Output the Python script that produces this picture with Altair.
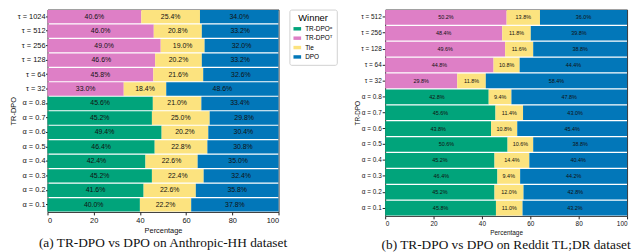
import altair as alt
import pandas as pd

winners = ["TR-DPOᵅ", "TR-DPOᵀ", "Tie", "DPO"]
colors = ["#01A47B", "#DE7FC6", "#FCE37F", "#0277B9"]

hh_rows = ["τ = 1024", "τ = 512", "τ = 256", "τ = 128", "τ = 64", "τ = 32",
           "α = 0.8", "α = 0.7", "α = 0.6", "α = 0.5", "α = 0.4", "α = 0.3", "α = 0.2", "α = 0.1"]
hh_tr = [40.6, 46.0, 49.0, 46.6, 45.8, 33.0, 45.6, 45.2, 49.4, 46.4, 42.4, 45.2, 41.6, 40.0]
hh_tie = [25.4, 20.8, 19.0, 20.2, 21.6, 18.4, 21.0, 25.0, 20.2, 22.8, 22.6, 22.4, 22.6, 22.2]
hh_dpo = [34.0, 33.2, 32.0, 33.2, 32.6, 48.6, 33.4, 29.8, 30.4, 30.8, 35.0, 32.4, 35.8, 37.8]

tldr_rows = ["τ = 512", "τ = 256", "τ = 128", "τ = 64", "τ = 32",
             "α = 0.8", "α = 0.7", "α = 0.6", "α = 0.5", "α = 0.4", "α = 0.3", "α = 0.2", "α = 0.1"]
tldr_tr = [50.2, 48.4, 49.6, 44.8, 29.8, 42.8, 45.6, 43.8, 50.6, 45.2, 46.4, 45.2, 45.8]
tldr_tie = [13.8, 11.8, 11.6, 10.8, 11.8, 9.4, 11.4, 10.8, 10.6, 14.4, 9.4, 12.0, 11.0]
tldr_dpo = [36.0, 39.8, 38.8, 44.4, 58.4, 47.8, 43.0, 45.4, 38.8, 40.4, 44.2, 42.8, 43.2]

FONT = "Liberation Sans, Arial, sans-serif"


def long_df(rows, tr, tie, dpo):
    recs = []
    for r, a, b, c in zip(rows, tr, tie, dpo):
        first = winners[1] if r.startswith("τ") else winners[0]
        recs.append({"row": r, "winner": first, "k": 0, "value": a})
        recs.append({"row": r, "winner": "Tie", "k": 1, "value": b})
        recs.append({"row": r, "winner": "DPO", "k": 2, "value": c})
    return pd.DataFrame(recs)


def panel(df, rows, w, h, fs_axis, fs_text, caption, legend, tick=3, lpad=1):
    base = alt.Chart(df).transform_stack(
        stack="value", groupby=["row"], sort=[alt.SortField("k")], as_=["x0", "x1"]
    ).transform_calculate(
        mid="(datum.x0 + datum.x1) / 2",
        lab="format(datum.value, '.1f') + '%'",
    )
    yenc = alt.Y(
        "row:N", sort=rows,
        scale=alt.Scale(paddingInner=0.08, paddingOuter=0.03),
        axis=alt.Axis(title="TR-DPO", titleFontSize=fs_axis, titleFont=FONT,
                      titleFontWeight="normal", titlePadding=0,
                      labelFontSize=fs_axis, labelFont=FONT, labelPadding=lpad,
                      tickSize=tick, tickColor="#222", domain=False, labelColor="#111",
                      titleColor="#111"),
    )
    bars = base.mark_bar().encode(
        y=yenc,
        x=alt.X("x0:Q", scale=alt.Scale(domain=[0, 100], nice=False),
                axis=alt.Axis(values=[0, 20, 40, 60, 80, 100], title="Percentage",
                              grid=False, domain=False, tickSize=3, tickColor="#222",
                              labelFontSize=fs_axis, labelFont=FONT, labelPadding=2,
                              titleFontSize=fs_axis, titleFont=FONT,
                              titleFontWeight="normal", titlePadding=2,
                              labelColor="#111", titleColor="#111")),
        x2="x1:Q",
        color=alt.Color("winner:N", scale=alt.Scale(domain=winners, range=colors),
                        legend=legend),
    )
    text = base.mark_text(fontSize=fs_text, font=FONT, color="#111").encode(
        y=alt.Y("row:N", sort=rows),
        x=alt.X("mid:Q"),
        text="lab:N",
    )
    return alt.layer(bars, text).properties(
        width=w, height=h,
        title=alt.TitleParams(caption, orient="bottom", font="Liberation Serif",
                              fontSize=13.5, fontWeight="normal", anchor="middle",
                              frame="group", offset=3, color="#111"),
    )


leg = alt.Legend(title="Winner", orient="right", offset=11, strokeColor="#d0d0d0",
                 padding=4, cornerRadius=2, titleFontSize=9.5, titleFont=FONT,
                 titleFontWeight="normal", titleAnchor="middle", titlePadding=2,
                 labelFontSize=6.5, labelFont=FONT,
                 symbolType="M-1,-0.45H1V0.45H-1Z", symbolSize=60,
                 symbolStrokeWidth=0, rowPadding=1.5)

left = panel(long_df(hh_rows, hh_tr, hh_tie, hh_dpo), hh_rows, 234, 205, 7.5, 7,
             "(a) TR-DPO vs DPO on Anthropic-HH dataset", leg, tick=2, lpad=0.5)
right = panel(long_df(tldr_rows, tldr_tr, tldr_tie, tldr_dpo), tldr_rows, 245, 209, 6.5, 5.5,
              "(b) TR-DPO vs DPO on Reddit TL;DR dataset", None)

chart = alt.hconcat(left, right, spacing=16,
                    autosize=alt.AutoSizeParams(type="none"),
                    padding={"left": 40, "top": 0, "right": 592, "bottom": 244}
                    ).resolve_scale(color="independent").configure_view(
    stroke="#333", strokeWidth=1)

chart.save("out.html", embed_options={"renderer": "svg", "actions": False})
